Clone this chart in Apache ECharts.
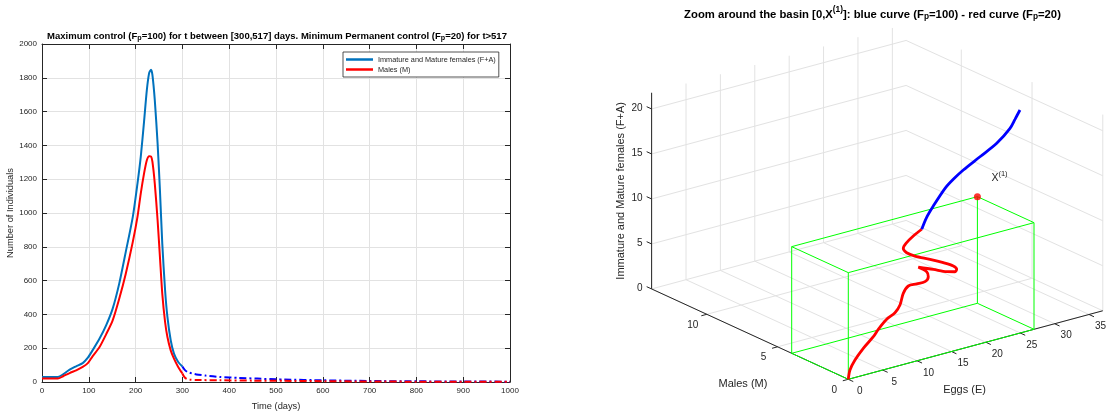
<!DOCTYPE html>
<html><head><meta charset="utf-8">
<script src="https://cdn.jsdelivr.net/npm/echarts@6/dist/echarts.min.js"></script>
<style>html,body{margin:0;padding:0;background:#fff}#c{width:1110px;height:411px}</style>
</head><body><div id="c"></div>
<script>
// ---------------- LEFT PANEL DATA ----------------
const xTickLabels = [0,100,200,300,400,500,600,700,800,900,1000];
const yTickLabels = [0,200,400,600,800,1000,1200,1400,1600,1800,2000];
const tSolid  = [0,34,45,59,73,87,98,108,123,137,151,165,179,194,204,211,218,224,229,233,236,241,247,252,257,263,268,275,282,291,300];
const faSolid = [30,30,45,73,93,112,144,187,257,335,434,582,770,977,1174,1332,1539,1727,1829,1848,1816,1668,1411,1135,819,543,385,247,168,118,92];
const mSolid  = [20,20,34,53,69,89,112,152,207,282,365,493,641,829,977,1115,1233,1312,1336,1334,1302,1174,957,740,523,355,266,187,138,89,50];
const tDashFA = [300,305,311,320,330,350,380,420,460,500,517,600,700,800,900,1000];
const faDash  = [92,72,59,51,45,38,30,24,20,16,15,10,6,4,3,2];
const tDashM  = [300,304,309,316,330,380,450,517,600,700,800,900,1000];
const mDash   = [50,30,18,14,12,10,8,7,5,3,2,1.5,1];

// ---------------- RIGHT PANEL DATA (Eggs, Males, F+A) ----------------
const eTicks = [0,5,10,15,20,25,30,35];
const mTicks = [0,5,10];
const zTicks = [0,5,10,15,20];
const eMax = 37, mMax = 13.9, zMax = 21.8;
const basinX1 = [27, 4, 11.85];
const redE = [0,0.86,2.0,3.62,5.49,6.42,8.05,9.46,10.6,11.49,12.43,13.85,15.27,15.95,15.92,14.91,17.09,19.04,20.45,20.9,20.62,19.37,17.64,15.66,14.66,14.37,14.97,16.24,17.67];
const redM = [0,0.3,0.5,0.7,0.9,1.0,1.2,1.3,1.5,1.7,1.8,1.9,2.0,2.1,2.2,2.3,2.3,2.3,2.4,2.5,2.6,2.7,2.8,2.9,3.0,3.1,3.2,3.3,3.4];
const redZ = [0,0.64,1.37,2.19,2.95,3.51,4.14,4.51,4.99,5.96,6.51,6.37,6.26,6.6,7.09,7.72,7.04,6.38,6.01,6.12,6.47,7.02,7.68,8.38,8.88,9.36,9.72,10.2,10.58];
const blueE = [17.67,18.8,20.18,22.5,24.11,25.98,29.02,32.07,34.62,35.55,36.48];
const blueM = [3.4,3.6,3.8,4.1,4.3,4.5,4.8,5.1,5.4,5.5,5.6];
const blueZ = [10.58,11.53,12.36,13.63,14.16,14.66,15.29,15.94,16.86,17.6,18.37];

// ---------------- STYLE / VIEW ----------------
const FONT = "'Liberation Sans', Arial, Helvetica, sans-serif";
const AX = '#262626';
const GRIDC = '#e2e2e2';
const VIEW = {ex:6.878, ey:1.852, mx:-14.15, my:6.5, zz:9};
function proj(e,m,z){ return [VIEW.ex*e + VIEW.mx*m, VIEW.ey*e + VIEW.my*m + VIEW.zz*z]; }
function seg(a,b){ const p=proj(a[0],a[1],a[2]), q=proj(b[0],b[1],b[2]); return [p[0],p[1],q[0],q[1]]; }

const gridSegs = [];
eTicks.forEach(e=>{ gridSegs.push(seg([e,0,0],[e,mMax,0])); gridSegs.push(seg([e,mMax,0],[e,mMax,zMax])); });
mTicks.forEach(m=>{ gridSegs.push(seg([0,m,0],[eMax,m,0])); gridSegs.push(seg([eMax,m,0],[eMax,m,zMax])); });
zTicks.forEach(z=>{ gridSegs.push(seg([0,mMax,z],[eMax,mMax,z])); gridSegs.push(seg([eMax,0,z],[eMax,mMax,z])); });

const axisSegs = [seg([0,0,0],[eMax,0,0]), seg([0,0,0],[0,mMax,0]), seg([0,mMax,0],[0,mMax,zMax])];
eTicks.forEach(e=>axisSegs.push(seg([e,0,0],[e,-0.35,0])));
mTicks.forEach(m=>axisSegs.push(seg([0,m,0],[-0.8,m,0])));
zTicks.forEach(z=>axisSegs.push(seg([0,mMax,z],[0,mMax+0.35,z])));

const [E1,M1,Z1] = basinX1;
const boxSegs = [
  seg([0,0,0],[E1,0,0]), seg([0,M1,0],[E1,M1,0]), seg([0,0,Z1],[E1,0,Z1]), seg([0,M1,Z1],[E1,M1,Z1]),
  seg([0,0,0],[0,M1,0]), seg([E1,0,0],[E1,M1,0]), seg([0,0,Z1],[0,M1,Z1]), seg([E1,0,Z1],[E1,M1,Z1]),
  seg([0,0,0],[0,0,Z1]), seg([E1,0,0],[E1,0,Z1]), seg([0,M1,0],[0,M1,Z1]), seg([E1,M1,0],[E1,M1,Z1])
];

const labels3D = [];
eTicks.forEach(e=>labels3D.push({p:[e,0,0], text:String(e), dx:11.5, dy:12, align:'center', va:'middle', size:10}));
mTicks.forEach(m=>labels3D.push({p:[0,m,0], text:String(m), dx:-14, dy:10.5, align:'center', va:'middle', size:10}));
zTicks.forEach(z=>labels3D.push({p:[0,mMax,z], text:String(z), dx:-9, dy:-1, align:'right', va:'middle', size:10}));
labels3D.push({p:[0,mMax/2,0], text:'Males (M)', dx:-7, dy:50, align:'center', va:'middle', size:11});
labels3D.push({p:[eMax/2,0,0], text:'Eggs (E)', dx:-11, dy:45, align:'center', va:'middle', size:11});
labels3D.push({p:[0,mMax,zMax/2], text:'Immature and Mature females (F+A)', dx:-31, dy:0, align:'center', va:'middle', size:11, rot:Math.PI/2});
labels3D.push({p:basinX1, text:'{x|X}{s|(1)}', dx:14, dy:-20, align:'left', va:'middle', size:10.5,
  rich:{x:{fontSize:10.5, fontFamily:FONT, fill:AX, verticalAlign:'bottom', lineHeight:14},
        s:{fontSize:7.5, fontFamily:FONT, fill:AX, verticalAlign:'top', padding:[0,0,6,0]}}});

function segSeries(data, color, width, z){
  return {type:'custom', xAxisIndex:2, yAxisIndex:2, silent:true, clip:false, z:z, animation:false,
    data:data, encode:{x:[0,2], y:[1,3]},
    renderItem:(params, api)=>{
      const p=api.coord([api.value(0),api.value(1)]), q=api.coord([api.value(2),api.value(3)]);
      return {type:'line', shape:{x1:p[0],y1:p[1],x2:q[0],y2:q[1]}, style:{stroke:color, lineWidth:width}};
    }};
}

const zip = (a,b)=>a.map((v,i)=>[v,b[i]]);
const lineBase = {showSymbol:false, symbol:'none', silent:true, animation:false, smooth:0.25};

function titleRich(size, sub, off){
  return {
    b:{fontSize:size, fontWeight:'bold', fontFamily:FONT, fill:'#000', verticalAlign:'bottom', lineHeight:size+4},
    s:{fontSize:sub, fontWeight:'bold', fontFamily:FONT, fill:'#000', verticalAlign:'bottom', padding:[off,0,0,0]},
    u:{fontSize:sub, fontWeight:'bold', fontFamily:FONT, fill:'#000', verticalAlign:'top', padding:[0,0,off,0]}
  };
}

const chart = echarts.init(document.getElementById('c'), null, {renderer:'canvas'});
chart.setOption({
  backgroundColor:'#ffffff',
  animation:false,
  textStyle:{fontFamily:FONT},
  grid:[
    {left:42, top:44, width:468, height:338, containLabel:false, outerBoundsMode:'none'},
    {left:628.3, top:59.3, width:500, height:350, containLabel:false, outerBoundsMode:'none'}
  ],
  legend:{
    data:['Immature and Mature females (F+A)','Males (M)'],
    orient:'vertical', left:343, top:52, icon:'rect', itemWidth:27, itemHeight:2.5, itemGap:1,
    padding:[3,3,3,3], borderColor:AX, borderWidth:0.8, backgroundColor:'#fff',
    textStyle:{fontSize:7.3, color:AX, fontFamily:FONT, lineHeight:9}, selectedMode:false
  },
  xAxis:[
    {type:'value', gridIndex:0, min:0, max:1000, interval:100, position:'bottom',
     axisLine:{onZero:false, lineStyle:{color:AX, width:1}},
     axisTick:{inside:true, length:5, lineStyle:{color:AX}},
     axisLabel:{fontSize:8, color:AX, margin:5, showMinLabel:true, showMaxLabel:true,
       formatter:v=>xTickLabels.includes(v)?String(v):''},
     splitLine:{show:true, lineStyle:{color:GRIDC, width:1}},
     name:'Time (days)', nameLocation:'middle', nameGap:20, nameTextStyle:{fontSize:9.3, color:AX}},
    {type:'value', gridIndex:0, min:0, max:1000, interval:100, position:'top',
     axisLine:{onZero:false, lineStyle:{color:AX, width:1}},
     axisTick:{inside:true, length:5, lineStyle:{color:AX}},
     axisLabel:{show:false}, splitLine:{show:false}},
    {type:'value', gridIndex:1, min:-220, max:280, show:false}
  ],
  yAxis:[
    {type:'value', gridIndex:0, min:0, max:2000, interval:200, position:'left',
     axisLine:{show:true, onZero:false, lineStyle:{color:AX, width:1}},
     axisTick:{show:true, inside:true, length:5, lineStyle:{color:AX}},
     axisLabel:{fontSize:8, color:AX, margin:5, showMinLabel:true, showMaxLabel:true,
       formatter:v=>yTickLabels.includes(v)?String(v):''},
     splitLine:{show:true, lineStyle:{color:GRIDC, width:1}},
     name:'Number of Individuals', nameLocation:'middle', nameGap:26, nameRotate:90,
     nameTextStyle:{fontSize:9.3, color:AX}},
    {type:'value', gridIndex:0, min:0, max:2000, interval:200, position:'right',
     axisLine:{show:true, onZero:false, lineStyle:{color:AX, width:1}},
     axisTick:{show:true, inside:true, length:5, lineStyle:{color:AX}},
     axisLabel:{show:false}, splitLine:{show:false}},
    {type:'value', gridIndex:1, min:-30, max:320, show:false}
  ],
  graphic:[
    {type:'text', x:277, y:35, silent:true, style:{
      text:'{b|Maximum control (F}{s|p}{b|=100) for t between [300,517] days. Minimum Permanent control (F}{s|p}{b|=20) for t>517}',
      rich:titleRich(9.5, 7.2, 6), align:'center', verticalAlign:'middle'}},
    {type:'text', x:872.5, y:13, silent:true, style:{
      text:'{b|Zoom around the basin [0,X}{u|(1)}{b|]: blue curve (F}{s|p}{b|=100) - red curve (F}{s|p}{b|=20)}',
      rich:titleRich(11.3, 8.3, 7), align:'center', verticalAlign:'middle'}}
  ],
  series:[
    Object.assign({type:'line', name:'Immature and Mature females (F+A)', xAxisIndex:0, yAxisIndex:0,
      data:zip(tSolid, faSolid), color:'#0072BD', lineStyle:{color:'#0072BD', width:2}}, lineBase),
    Object.assign({type:'line', name:'Males (M)', xAxisIndex:0, yAxisIndex:0,
      data:zip(tSolid, mSolid), color:'#FF0000', lineStyle:{color:'#FF0000', width:2}}, lineBase),
    Object.assign({type:'line', name:'F+A (controlled)', xAxisIndex:0, yAxisIndex:0,
      data:zip(tDashFA, faDash), color:'#0000FF', lineStyle:{color:'#0000FF', width:2, type:[7,3,2,3]}}, lineBase),
    Object.assign({type:'line', name:'M (controlled)', xAxisIndex:0, yAxisIndex:0,
      data:zip(tDashM, mDash), color:'#FF0000', lineStyle:{color:'#FF0000', width:2, type:[7,3,2,3]}}, lineBase),

    segSeries(gridSegs, GRIDC, 1, 1),
    segSeries(axisSegs, AX, 1, 2),
    segSeries(boxSegs, '#00FF00', 1, 3),
    {type:'line', name:'red3d', xAxisIndex:2, yAxisIndex:2, z:4, showSymbol:false, symbol:'none', silent:true, animation:false,
     smooth:0.3, data:redE.map((e,i)=>proj(e,redM[i],redZ[i])), lineStyle:{color:'#FF0000', width:2.8}},
    {type:'line', name:'blue3d', xAxisIndex:2, yAxisIndex:2, z:4, showSymbol:false, symbol:'none', silent:true, animation:false,
     smooth:0.3, data:blueE.map((e,i)=>proj(e,blueM[i],blueZ[i])), lineStyle:{color:'#0000FF', width:2.8}},
    {type:'scatter', name:'X1', xAxisIndex:2, yAxisIndex:2, z:5, silent:true, animation:false, symbolSize:7,
     data:[proj(basinX1[0],basinX1[1],basinX1[2])], itemStyle:{color:'#FF0000'}},
    {type:'custom', xAxisIndex:2, yAxisIndex:2, silent:true, clip:false, z:6, animation:false,
     data:labels3D.map((l,i)=>{ const p=proj(l.p[0],l.p[1],l.p[2]); return [p[0],p[1],i]; }),
     renderItem:(params, api)=>{
       const l=labels3D[api.value(2)]; const c=api.coord([api.value(0),api.value(1)]);
       return {type:'text', x:c[0]+l.dx, y:c[1]+l.dy, rotation:l.rot||0,
         style:{text:l.text, fill:AX, fontSize:l.size, fontFamily:FONT, align:l.align, verticalAlign:l.va, rich:l.rich}};
     }}
  ]
});
</script></body></html>
